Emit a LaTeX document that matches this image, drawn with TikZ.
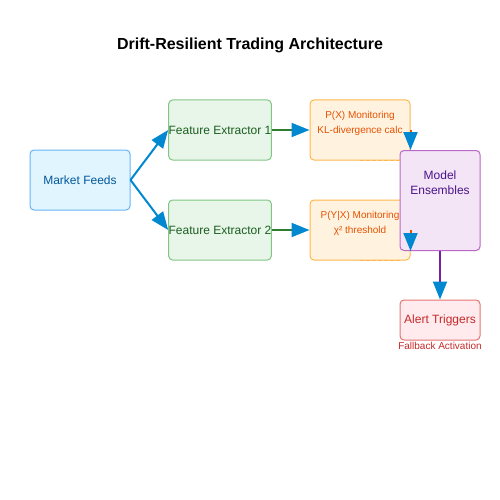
\documentclass[tikz,border=0pt]{standalone}
\usepackage{fontspec}
\setmainfont{Liberation Sans}
\usepackage{xcolor}
\usetikzlibrary{shapes,arrows.meta,positioning}
\definecolor{mktfill}{HTML}{E1F5FE}\definecolor{mktline}{HTML}{64B5F6}\definecolor{mkttext}{HTML}{01579B}
\definecolor{fefill}{HTML}{E8F5E9}\definecolor{feline}{HTML}{81C784}\definecolor{fetext}{HTML}{1B5E20}
\definecolor{monfill}{HTML}{FFF3E0}\definecolor{monline}{HTML}{FFB74D}\definecolor{montext}{HTML}{E65100}
\definecolor{ensfill}{HTML}{F3E5F5}\definecolor{ensline}{HTML}{BA68C8}\definecolor{enstext}{HTML}{4A148C}
\definecolor{alfill}{HTML}{FFEBEE}\definecolor{alline}{HTML}{E57373}\definecolor{altext}{HTML}{C62828}
\definecolor{arrowblue}{HTML}{0288D1}\definecolor{greenline}{HTML}{2E7D32}\definecolor{purpline}{HTML}{7B1FA2}
\tikzset{blk/.style={rectangle,rounded corners=4pt,draw,line width=1pt,inner sep=0pt,minimum width=100pt,minimum height=60pt,font=\fontsize{12}{14}\selectfont,align=center},
  montxt/.style={text=montext,font=\fontsize{10}{15}\selectfont,align=center},
  flow/.style={line width=2pt,-{Triangle[length=18pt,width=14pt,color=arrowblue]}}}

\begin{document}
\begin{tikzpicture}[x=1pt,y=-1pt]
    \useasboundingbox (0,0) rectangle (500,500);
    \node[font=\fontsize{16}{18}\selectfont\bfseries] (title) at (250,45) {Drift-Resilient Trading Architecture};

    \node[blk,fill=mktfill,draw=mktline,text=mkttext] (mkt) at (80,180) {Market Feeds};
    \node[blk,fill=fefill,draw=feline,text=fetext] (fe1) at (220,130) {Feature Extractor 1};
    \node[blk,fill=fefill,draw=feline,text=fetext] (fe2) at (220,230) {Feature Extractor 2};
    \node[blk,fill=monfill,draw=monline] (pxm) at (360,130) {};
    \node[montxt] (pxmlabel) at (360,123) {P(X) Monitoring\\KL-divergence calc};
    \node[blk,fill=monfill,draw=monline] (pyxm) at (360,230) {};
    \node[montxt] (pyxmlabel) at (360,223) {P(Y|X) Monitoring\\χ² threshold};
    \node[blk,fill=ensfill,draw=ensline,minimum width=80pt,minimum height=100pt,anchor=north] (ens) at (440,150) {};
    \node[text=enstext,font=\fontsize{12}{15}\selectfont,align=center] (enslabel) at (440,183) {Model\\Ensembles};
    \node[blk,fill=alfill,draw=alline,text=altext,minimum width=80pt,minimum height=40pt] (alert) at (440,320) {Alert Triggers};
    \node[text=altext,font=\fontsize{10}{12}\selectfont,inner sep=0pt] (fallback) at (440,346) {Fallback Activation};

    % dashed marks under the monitors
    \draw [monline,line width=1.5pt,dash pattern=on 4pt off 2pt] (pxm.south) -- ([xshift=40pt]pxm.south);
    \draw [monline,line width=1.5pt,dash pattern=on 4pt off 2pt] (pyxm.south) -- ([xshift=40pt]pyxm.south);

    \draw [flow,arrowblue] (mkt.east) -- (fe1.west);
    \draw [flow,arrowblue] (mkt.east) -- (fe2.west);
    \draw [flow,greenline] (fe1.east) -- (pxm.west);
    \draw [flow,greenline] (fe2.east) -- (pyxm.west);
    \draw [flow,montext] (pxm.east) -- (pxm.east |- ens.north);
    \draw [flow,montext] (pyxm.east) -- (pyxm.east |- ens.south);
    \draw [flow,purpline] (ens.south) -- (alert.north);
\end{tikzpicture}
\end{document}
